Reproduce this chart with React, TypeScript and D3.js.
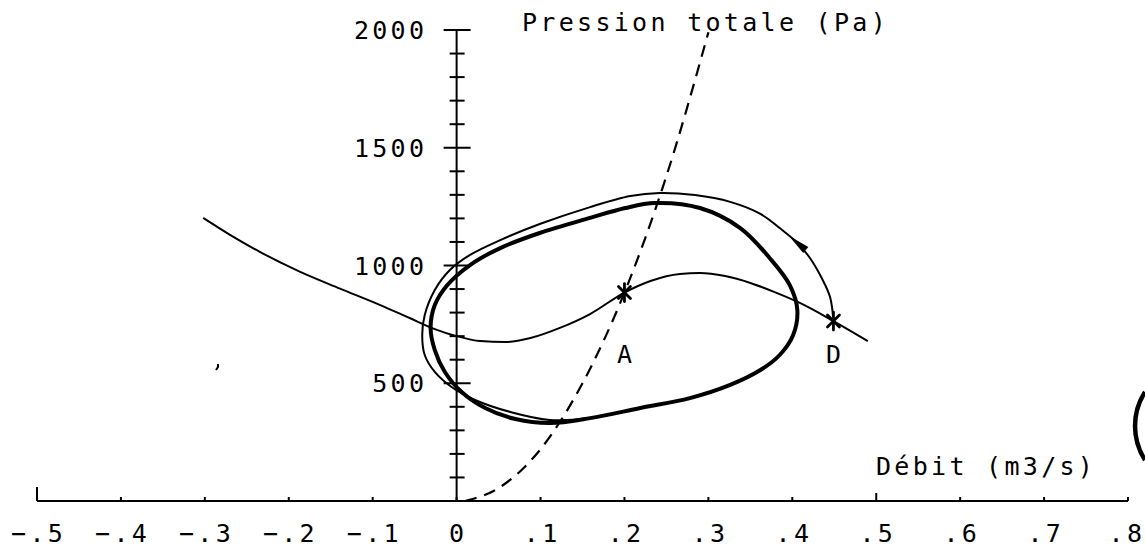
import React from 'react';
import * as d3 from 'd3';

const W = 1145;
const H = 547;

// Axis ticks and labels
const xTickValues = [-0.5, -0.4, -0.3, -0.2, -0.1, 0, 0.1, 0.2, 0.3, 0.4, 0.5, 0.6, 0.7, 0.8];
const xTickLabels = ['−.5', '−.4', '−.3', '−.2', '−.1', '0', '.1', '.2', '.3', '.4', '.5', '.6', '.7', '.8'];
const yMajorValues = [500, 1000, 1500, 2000];
const yMajorLabels = ['500', '1000', '1500', '2000'];

// Fan characteristic: débit (m3/s) vs pression totale (Pa)
const fanQ = [-0.302, -0.270, -0.234, -0.187, -0.139, -0.091, -0.056, -0.026, -0.001, 0.028, 0.058, 0.088, 0.123, 0.159, 0.2, 0.231, 0.266, 0.290, 0.320, 0.350, 0.379, 0.409, 0.449, 0.490];
const fanP = [1202, 1130, 1057, 974, 902, 832, 777, 730, 701, 679, 675, 692, 735, 794, 885, 934, 964, 968, 955, 926, 887, 841, 764, 679];

// Circuit resistance curve (dashed)
const circuitQ = [0.01, 0.05, 0.1, 0.15, 0.2, 0.25, 0.3];
const circuitP = [0, 55, 220, 500, 885, 1380, 1990];

// Limit cycle (heavy closed loop)
const cycleQ = [0.236, 0.290, 0.338, 0.373, 0.397, 0.406, 0.401, 0.385, 0.362, 0.326, 0.278, 0.219, 0.159, 0.111, 0.070, 0.034, 0.006, -0.014, -0.026, -0.031, -0.026, -0.011, 0.016, 0.052, 0.099, 0.159, 0.201];
const cycleP = [1265, 1244, 1159, 1032, 917, 811, 705, 620, 556, 493, 437, 395, 352, 331, 348, 395, 463, 548, 641, 735, 832, 917, 1002, 1074, 1138, 1202, 1244];

// Transient trajectory starting at point D
const trajQ = [0.449, 0.445, 0.435, 0.421, 0.406, 0.385, 0.362, 0.326, 0.284, 0.242, 0.207, 0.159, 0.099, 0.052, 0.016, -0.008, -0.026, -0.038, -0.041, -0.038, -0.026, -0.006, 0.022, 0.064, 0.111, 0.159, 0.219];
const trajP = [764, 866, 947, 1032, 1096, 1159, 1219, 1270, 1299, 1308, 1295, 1248, 1176, 1108, 1045, 981, 896, 790, 705, 620, 548, 484, 429, 378, 344, 352, 395];
const arrowIndex = 4;

// Operating points
const pointNames = ['A', 'D'];
const pointQ = [0.2, 0.449];
const pointP = [885, 764];

const FONT = "'DejaVu Sans Mono', monospace";
const FS = 25;
const LS = 3.3;

export default function App() {
  const x = d3.scaleLinear().domain([-0.5, 0.8]).range([37, 1128]);
  const y = d3.scaleLinear().domain([0, 2000]).range([501, 30]);

  const line = (q: number[], p: number[], curve: d3.CurveFactory) =>
    d3.line<number>().x((_, i) => x(q[i])).y((_, i) => y(p[i])).curve(curve)(q.map((_, i) => i)) || '';

  const fanPath = line(fanQ, fanP, d3.curveMonotoneX);
  const circuitPath = line(circuitQ, circuitP, d3.curveMonotoneX);
  const cyclePath = line(cycleQ, cycleP, d3.curveCatmullRomClosed.alpha(0.5));
  const trajPath = line(trajQ, trajP, d3.curveCatmullRom.alpha(0.5));

  const x0 = x(0);
  const yAll = y.ticks(20).filter((v) => v > 0);
  const yMinor = yAll.filter((v) => !yMajorValues.includes(v));

  // arrow on trajectory, pointing in the direction of travel
  const ax = x(trajQ[arrowIndex]);
  const ay = y(trajP[arrowIndex]);
  const bx = x(trajQ[arrowIndex + 1]);
  const by = y(trajP[arrowIndex + 1]);
  const ang = Math.atan2(by - ay, bx - ax);
  const ux = Math.cos(ang);
  const uy = Math.sin(ang);
  const arrow = [
    [ax + ux * 11, ay + uy * 11],
    [ax - ux * 11 - uy * 4, ay - uy * 11 + ux * 4],
    [ax - ux * 11 + uy * 4, ay - uy * 11 - ux * 4],
  ];

  const star = (cx: number, cy: number) => (
    <g stroke="#000" strokeWidth={2.8} strokeLinecap="round">
      <line x1={cx} y1={cy - 9} x2={cx} y2={cy + 9} />
      <line x1={cx - 6} y1={cy - 6} x2={cx + 6} y2={cy + 6} />
      <line x1={cx - 6} y1={cy + 6} x2={cx + 6} y2={cy - 6} />
    </g>
  );

  const last = xTickLabels.length - 1;

  return (
    <svg width={W} height={H} style={{ position: 'absolute', left: 0, top: 0, background: '#fff' }}>
      <rect width={W} height={H} fill="#fff" />
      {/* x axis */}
      <line x1={x(-0.5)} y1={y(0)} x2={x(0.8)} y2={y(0)} stroke="#000" strokeWidth={2} />
      {xTickValues.map((v, i) => {
        const h = i === 0 ? 14 : v === 0.5 ? 8 : 4;
        return <line key={'xt' + i} x1={x(v)} y1={y(0)} x2={x(v)} y2={y(0) - h} stroke="#000" strokeWidth={2} />;
      })}
      {xTickLabels.map((t, i) => (
        <text
          key={'xl' + i}
          x={i === last ? x(xTickValues[i]) + 14 : x(xTickValues[i])}
          dx={i === last ? LS : LS / 2}
          y={542}
          textAnchor={i === last ? 'end' : 'middle'}
          fontFamily={FONT}
          fontSize={FS}
          letterSpacing={LS}
        >
          {t}
        </text>
      ))}
      {/* y axis */}
      <line x1={x0} y1={y(2000)} x2={x0} y2={y(0)} stroke="#000" strokeWidth={2} />
      {yMinor.map((v) => (
        <line key={'ym' + v} x1={x0 - 7} y1={y(v)} x2={x0 + 8} y2={y(v)} stroke="#000" strokeWidth={2} />
      ))}
      {yMajorValues.map((v) => (
        <line key={'yM' + v} x1={x0 - 13} y1={y(v)} x2={x0 + 14} y2={y(v)} stroke="#000" strokeWidth={2} />
      ))}
      {yMajorLabels.map((t, i) => (
        <text key={'yl' + i} x={424 + LS} y={y(yMajorValues[i]) + 9} textAnchor="end" fontFamily={FONT} fontSize={FS} letterSpacing={LS}>
          {t}
        </text>
      ))}
      <text x={522} y={31} fontFamily={FONT} fontSize={FS} letterSpacing={LS}>Pression totale (Pa)</text>
      <text x={876} y={475} fontFamily={FONT} fontSize={FS} letterSpacing={LS}>Débit (m3/s)</text>

      {/* curves */}
      <path d={circuitPath} fill="none" stroke="#000" strokeWidth={2.2} strokeDasharray="12,8" />
      <path d={fanPath} fill="none" stroke="#000" strokeWidth={2} />
      <path d={trajPath} fill="none" stroke="#000" strokeWidth={2} />
      <path d={cyclePath} fill="none" stroke="#000" strokeWidth={4} />
      <polygon points={arrow.map((p) => p.join(',')).join(' ')} fill="#000" />

      {pointNames.map((n, i) => (
        <g key={n}>
          {star(x(pointQ[i]), y(pointP[i]))}
          <text x={x(pointQ[i]) + LS / 2} y={363} textAnchor="middle" fontFamily={FONT} fontSize={FS} letterSpacing={LS}>
            {n}
          </text>
        </g>
      ))}

      {/* stray marks on the sheet */}
      <path d="M218,364 L218,367 L216,370" fill="none" stroke="#000" strokeWidth={2} />
      <path d="M1145,392 A63,63 0 0 0 1145,460" fill="none" stroke="#000" strokeWidth={4.5} />
    </svg>
  );
}
